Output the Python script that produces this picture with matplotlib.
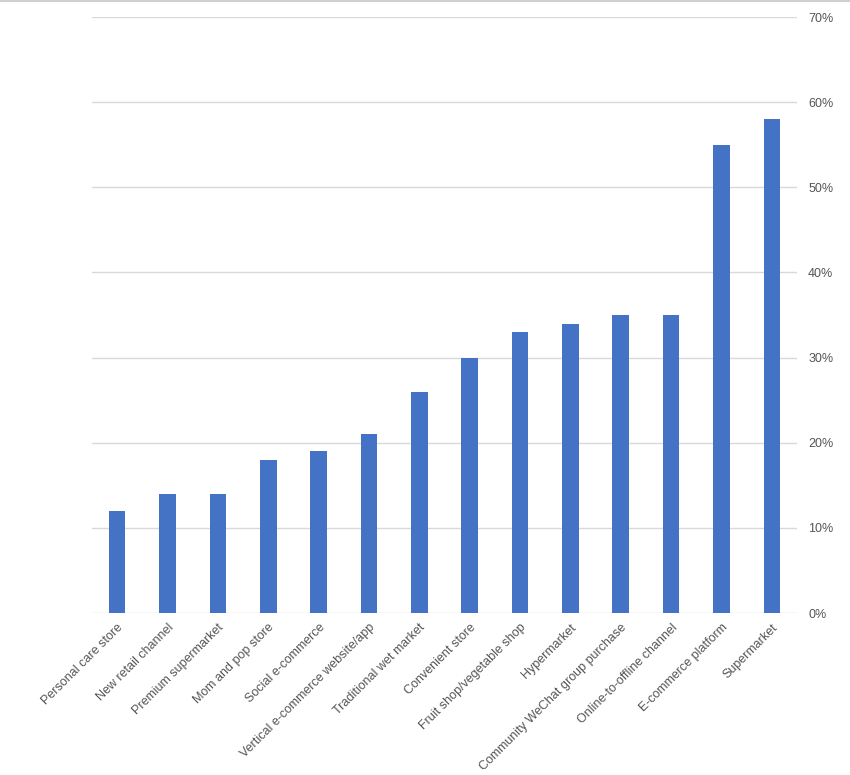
import matplotlib
matplotlib.use("Agg")
import matplotlib.pyplot as plt
from matplotlib.ticker import FuncFormatter, MultipleLocator
from matplotlib.lines import Line2D

# данные
channels = ["Personal care store", "New retail channel", "Premium supermarket",
            "Mom and pop store", "Social e-commerce", "Vertical e-commerce website/app",
            "Traditional wet market", "Convenient store", "Fruit shop/vegetable shop",
            "Hypermarket", "Community WeChat group purchase", "Online-to-offline channel",
            "E-commerce platform", "Supermarket"]
share = [12, 14, 14, 18, 19, 21, 26, 30, 33, 34, 35, 35, 55, 58]

plt.rcParams['font.family'] = ['Liberation Sans', 'DejaVu Sans']

fig = plt.figure(figsize=(8.5, 7.75), dpi=100)
ax = fig.add_axes([92 / 850, 1 - 613 / 775, (797 - 92) / 850, (613 - 17) / 775])

x = list(range(len(channels)))
ax.bar(x, share, width=0.33, color="#4472C4", zorder=3)

ax.set_xlim(-0.5, len(channels) - 0.5)
ax.set_ylim(0, 70)
ax.yaxis.set_major_locator(MultipleLocator(10))
ax.yaxis.set_major_formatter(FuncFormatter(lambda v, p: "{:d}%".format(int(round(v)))))
ax.yaxis.tick_right()
ax.grid(axis="y", color="#d9d9d9", linewidth=1, zorder=0)
for s in ax.spines.values():
    s.set_visible(False)
ax.tick_params(axis="y", length=0, pad=8, labelsize=9, labelcolor="#555555")
ax.tick_params(axis="x", length=0, pad=6, labelsize=9, labelcolor="#555555")
ax.set_xticks(x)
ax.set_xticklabels(channels, rotation=45, ha="right", rotation_mode="anchor")

# рамка сверху
fig.add_artist(Line2D([0, 1], [0.999, 0.999], transform=fig.transFigure,
                      color="#d0d0d0", linewidth=1.5))

plt.savefig("out.png", dpi=100)
